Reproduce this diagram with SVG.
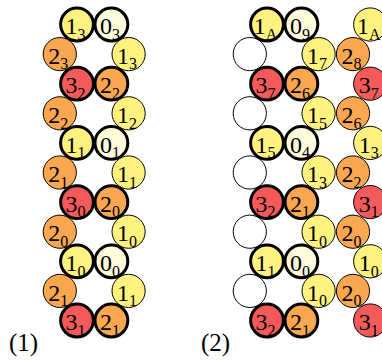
<svg xmlns="http://www.w3.org/2000/svg" width="382" height="360" viewBox="0 0 382 360">
<style>
circle{stroke:#000}
.t{stroke-width:3}
.n{stroke-width:1}
.y{fill:#fff27f}
.c{fill:#fffadc}
.o{fill:#fba74f}
.r{fill:#f45a5a}
.w{fill:#fff}
text{font-family:"Liberation Serif","DejaVu Serif",serif;font-size:24px;fill:#000;text-anchor:middle}
tspan{font-size:16px}
.lab{text-anchor:start;font-size:25px}
</style>
<g id="panel1">
<g id="n1_r1L"><circle class="n o" cx="59.8" cy="54.1" r="16.6"/><text x="58.3" y="63.8">2<tspan dy="5.5">3</tspan></text></g>
<g id="n1_r1R"><circle class="n y" cx="128.6" cy="54.1" r="16.6"/><text x="127.1" y="63.8">1<tspan dy="5.5">3</tspan></text></g>
<g id="n1_r3L"><circle class="n o" cx="59.8" cy="113.3" r="16.6"/><text x="58.3" y="123">2<tspan dy="5.5">2</tspan></text></g>
<g id="n1_r3R"><circle class="n y" cx="128.6" cy="113.3" r="16.6"/><text x="127.1" y="123">1<tspan dy="5.5">2</tspan></text></g>
<g id="n1_r5L"><circle class="n o" cx="59.8" cy="172.5" r="16.6"/><text x="58.3" y="182.2">2<tspan dy="5.5">1</tspan></text></g>
<g id="n1_r5R"><circle class="n y" cx="128.6" cy="172.5" r="16.6"/><text x="127.1" y="182.2">1<tspan dy="5.5">1</tspan></text></g>
<g id="n1_r7L"><circle class="n o" cx="59.8" cy="231.7" r="16.6"/><text x="58.3" y="241.4">2<tspan dy="5.5">0</tspan></text></g>
<g id="n1_r7R"><circle class="n y" cx="128.6" cy="231.7" r="16.6"/><text x="127.1" y="241.4">1<tspan dy="5.5">0</tspan></text></g>
<g id="n1_r9L"><circle class="n o" cx="59.8" cy="290.9" r="16.6"/><text x="58.3" y="300.6">2<tspan dy="5.5">1</tspan></text></g>
<g id="n1_r9R"><circle class="n y" cx="128.6" cy="290.9" r="16.6"/><text x="127.1" y="300.6">1<tspan dy="5.5">1</tspan></text></g>

<g id="n1_r0a"><circle class="t y" cx="77" cy="24.5" r="16.4"/><text x="75.5" y="34.2">1<tspan dy="5.5">3</tspan></text></g>
<g id="n1_r0b"><circle class="t c" cx="111.4" cy="24.5" r="16.4"/><text x="109.9" y="34.2">0<tspan dy="5.5">3</tspan></text></g>
<g id="n1_r2a"><circle class="t r" cx="77" cy="83.7" r="16.4"/><text x="75.5" y="93.4">3<tspan dy="5.5">2</tspan></text></g>
<g id="n1_r2b"><circle class="t o" cx="111.4" cy="83.7" r="16.4"/><text x="109.9" y="93.4">2<tspan dy="5.5">2</tspan></text></g>
<g id="n1_r4a"><circle class="t y" cx="77" cy="142.9" r="16.4"/><text x="75.5" y="152.6">1<tspan dy="5.5">1</tspan></text></g>
<g id="n1_r4b"><circle class="t c" cx="111.4" cy="142.9" r="16.4"/><text x="109.9" y="152.6">0<tspan dy="5.5">1</tspan></text></g>
<g id="n1_r6a"><circle class="t r" cx="77" cy="202.1" r="16.4"/><text x="75.5" y="211.8">3<tspan dy="5.5">0</tspan></text></g>
<g id="n1_r6b"><circle class="t o" cx="111.4" cy="202.1" r="16.4"/><text x="109.9" y="211.8">2<tspan dy="5.5">0</tspan></text></g>
<g id="n1_r8a"><circle class="t y" cx="77" cy="261.3" r="16.4"/><text x="75.5" y="271">1<tspan dy="5.5">0</tspan></text></g>
<g id="n1_r8b"><circle class="t c" cx="111.4" cy="261.3" r="16.4"/><text x="109.9" y="271">0<tspan dy="5.5">0</tspan></text></g>
<g id="n1_r10a"><circle class="t r" cx="77" cy="320.5" r="16.4"/><text x="75.5" y="330.2">3<tspan dy="5.5">1</tspan></text></g>
<g id="n1_r10b"><circle class="t o" cx="111.4" cy="320.5" r="16.4"/><text x="109.9" y="330.2">2<tspan dy="5.5">1</tspan></text></g>
<text id="label1" class="lab" x="9" y="351">(1)</text>
</g>

<g id="panel2">
<g id="n2_r1L"><circle class="n w" cx="249.8" cy="54.1" r="16.6"/></g>
<g id="n2_r1R"><circle class="n y" cx="318.6" cy="54.1" r="16.6"/><text x="317.1" y="63.8">1<tspan dy="5.5">7</tspan></text></g>
<g id="n2_r1S"><circle class="n o" cx="353" cy="54.1" r="16.6"/><text x="351.5" y="63.8">2<tspan dy="5.5">8</tspan></text></g>
<g id="n2_r3L"><circle class="n w" cx="249.8" cy="113.3" r="16.6"/></g>
<g id="n2_r3R"><circle class="n y" cx="318.6" cy="113.3" r="16.6"/><text x="317.1" y="123">1<tspan dy="5.5">5</tspan></text></g>
<g id="n2_r3S"><circle class="n o" cx="353" cy="113.3" r="16.6"/><text x="351.5" y="123">2<tspan dy="5.5">6</tspan></text></g>
<g id="n2_r5L"><circle class="n w" cx="249.8" cy="172.5" r="16.6"/></g>
<g id="n2_r5R"><circle class="n y" cx="318.6" cy="172.5" r="16.6"/><text x="317.1" y="182.2">1<tspan dy="5.5">3</tspan></text></g>
<g id="n2_r5S"><circle class="n o" cx="353" cy="172.5" r="16.6"/><text x="351.5" y="182.2">2<tspan dy="5.5">2</tspan></text></g>
<g id="n2_r7L"><circle class="n w" cx="249.8" cy="231.7" r="16.6"/></g>
<g id="n2_r7R"><circle class="n y" cx="318.6" cy="231.7" r="16.6"/><text x="317.1" y="241.4">1<tspan dy="5.5">0</tspan></text></g>
<g id="n2_r7S"><circle class="n o" cx="353" cy="231.7" r="16.6"/><text x="351.5" y="241.4">2<tspan dy="5.5">0</tspan></text></g>
<g id="n2_r9L"><circle class="n w" cx="249.8" cy="290.9" r="16.6"/></g>
<g id="n2_r9R"><circle class="n y" cx="318.6" cy="290.9" r="16.6"/><text x="317.1" y="300.6">1<tspan dy="5.5">0</tspan></text></g>
<g id="n2_r9S"><circle class="n o" cx="353" cy="290.9" r="16.6"/><text x="351.5" y="300.6">2<tspan dy="5.5">0</tspan></text></g>

<g id="n2_r0c"><circle class="n y" cx="370.2" cy="24.5" r="16.6"/><text x="368.7" y="34.2">1<tspan dy="5.5">A</tspan></text></g>
<g id="n2_r2c"><circle class="n r" cx="370.2" cy="83.7" r="16.6"/><text x="368.7" y="93.4">3<tspan dy="5.5">7</tspan></text></g>
<g id="n2_r4c"><circle class="n y" cx="370.2" cy="142.9" r="16.6"/><text x="368.7" y="152.6">1<tspan dy="5.5">3</tspan></text></g>
<g id="n2_r6c"><circle class="n r" cx="370.2" cy="202.1" r="16.6"/><text x="368.7" y="211.8">3<tspan dy="5.5">1</tspan></text></g>
<g id="n2_r8c"><circle class="n y" cx="370.2" cy="261.3" r="16.6"/><text x="368.7" y="271">1<tspan dy="5.5">0</tspan></text></g>
<g id="n2_r10c"><circle class="n r" cx="370.2" cy="320.5" r="16.6"/><text x="368.7" y="330.2">3<tspan dy="5.5">1</tspan></text></g>

<g id="n2_r0a"><circle class="t y" cx="267" cy="24.5" r="16.4"/><text x="265.5" y="34.2">1<tspan dy="5.5">A</tspan></text></g>
<g id="n2_r0b"><circle class="t c" cx="301.4" cy="24.5" r="16.4"/><text x="299.9" y="34.2">0<tspan dy="5.5">9</tspan></text></g>
<g id="n2_r2a"><circle class="t r" cx="267" cy="83.7" r="16.4"/><text x="265.5" y="93.4">3<tspan dy="5.5">7</tspan></text></g>
<g id="n2_r2b"><circle class="t o" cx="301.4" cy="83.7" r="16.4"/><text x="299.9" y="93.4">2<tspan dy="5.5">6</tspan></text></g>
<g id="n2_r4a"><circle class="t y" cx="267" cy="142.9" r="16.4"/><text x="265.5" y="152.6">1<tspan dy="5.5">5</tspan></text></g>
<g id="n2_r4b"><circle class="t c" cx="301.4" cy="142.9" r="16.4"/><text x="299.9" y="152.6">0<tspan dy="5.5">4</tspan></text></g>
<g id="n2_r6a"><circle class="t r" cx="267" cy="202.1" r="16.4"/><text x="265.5" y="211.8">3<tspan dy="5.5">2</tspan></text></g>
<g id="n2_r6b"><circle class="t o" cx="301.4" cy="202.1" r="16.4"/><text x="299.9" y="211.8">2<tspan dy="5.5">1</tspan></text></g>
<g id="n2_r8a"><circle class="t y" cx="267" cy="261.3" r="16.4"/><text x="265.5" y="271">1<tspan dy="5.5">1</tspan></text></g>
<g id="n2_r8b"><circle class="t c" cx="301.4" cy="261.3" r="16.4"/><text x="299.9" y="271">0<tspan dy="5.5">0</tspan></text></g>
<g id="n2_r10a"><circle class="t r" cx="267" cy="320.5" r="16.4"/><text x="265.5" y="330.2">3<tspan dy="5.5">2</tspan></text></g>
<g id="n2_r10b"><circle class="t o" cx="301.4" cy="320.5" r="16.4"/><text x="299.9" y="330.2">2<tspan dy="5.5">1</tspan></text></g>
<text id="label2" class="lab" x="201" y="351">(2)</text>
</g>
<g id="connectors"/>
</svg>
